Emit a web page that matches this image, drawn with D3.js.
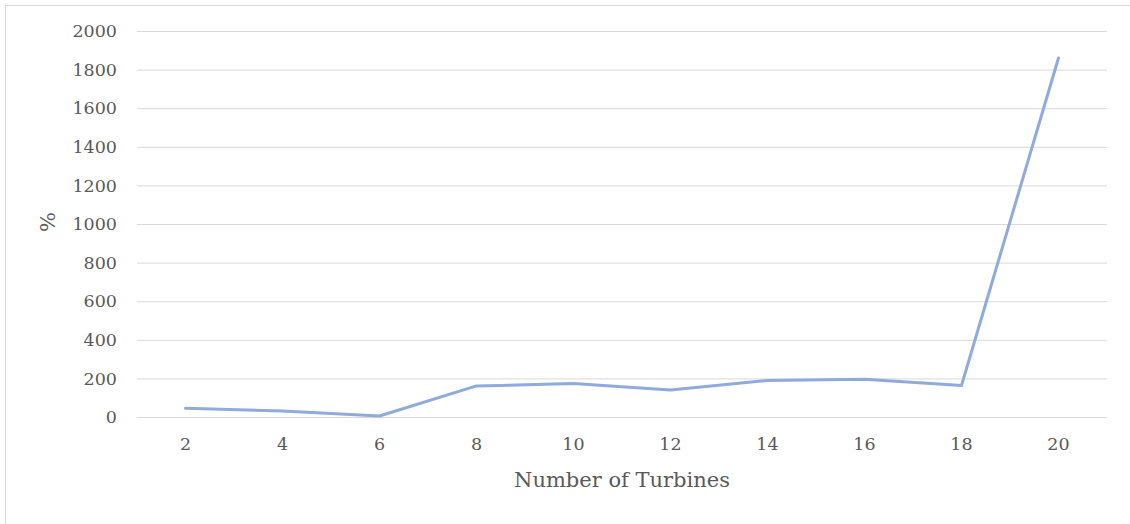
<!DOCTYPE html>
<html><head><meta charset="utf-8">
<script src="https://cdn.jsdelivr.net/npm/d3@7"></script>
<style>
html,body{margin:0;padding:0;background:#fff;}
svg{display:block;}
text{font-family:"DejaVu Serif",serif;fill:#595959;}
</style></head>
<body>
<script>
const categories = [2, 4, 6, 8, 10, 12, 14, 16, 18, 20];
const values = [45, 31, 5, 161, 173, 140, 189, 196, 163, 1860];
const yTicks = [0, 200, 400, 600, 800, 1000, 1200, 1400, 1600, 1800, 2000];
const xTitle = "Number of Turbines";
const yTitle = "%";

(function () {
const W = 1130, H = 524;
const svg = d3.select("body").append("svg").attr("width", W).attr("height", H);

svg.append("rect").attr("x", 5.5).attr("y", 5.5).attr("width", W + 10).attr("height", H + 10)
  .attr("fill", "#fff").attr("stroke", "#d9d9d9").attr("stroke-width", 1);

const mLeft = 137, mRight = 1107, mTop = 31, mBottom = 417;
const x = d3.scaleBand().domain(categories).range([mLeft, mRight]);
const y = d3.scaleLinear().domain([0, 2000]).range([mBottom, mTop]);

const yAxis = svg.append("g").attr("transform", `translate(${mLeft},0)`)
  .call(d3.axisLeft(y).tickValues(yTicks).tickSize(-(mRight - mLeft)).tickPadding(20).tickFormat(d3.format("d")));
yAxis.select(".domain").remove();
yAxis.selectAll(".tick line").attr("stroke", "#d9d9d9").attr("stroke-width", 1);
yAxis.selectAll(".tick text").attr("font-size", 17.5).attr("font-family", "DejaVu Serif").attr("fill", "#595959");

const xAxis = svg.append("g").attr("transform", `translate(0,${mBottom})`)
  .call(d3.axisBottom(x).tickSize(0).tickPadding(21));
xAxis.select(".domain").remove();
xAxis.selectAll(".tick text").attr("font-size", 17.5).attr("font-family", "DejaVu Serif").attr("fill", "#595959");

const line = d3.line().x((d, i) => x(categories[i]) + x.bandwidth() / 2).y(d => y(d));
svg.append("path").datum(values).attr("d", line).attr("fill", "none")
  .attr("stroke", "#8faadc").attr("stroke-width", 3).attr("stroke-linejoin", "round").attr("stroke-linecap", "round");

svg.append("text").attr("x", (mLeft + mRight) / 2).attr("y", 487).attr("text-anchor", "middle")
  .attr("font-size", 21).text(xTitle);
svg.append("text").attr("transform", "translate(55,222) rotate(-90)").attr("text-anchor", "middle")
  .attr("font-size", 21).text(yTitle);
})();
</script>
</body></html>
